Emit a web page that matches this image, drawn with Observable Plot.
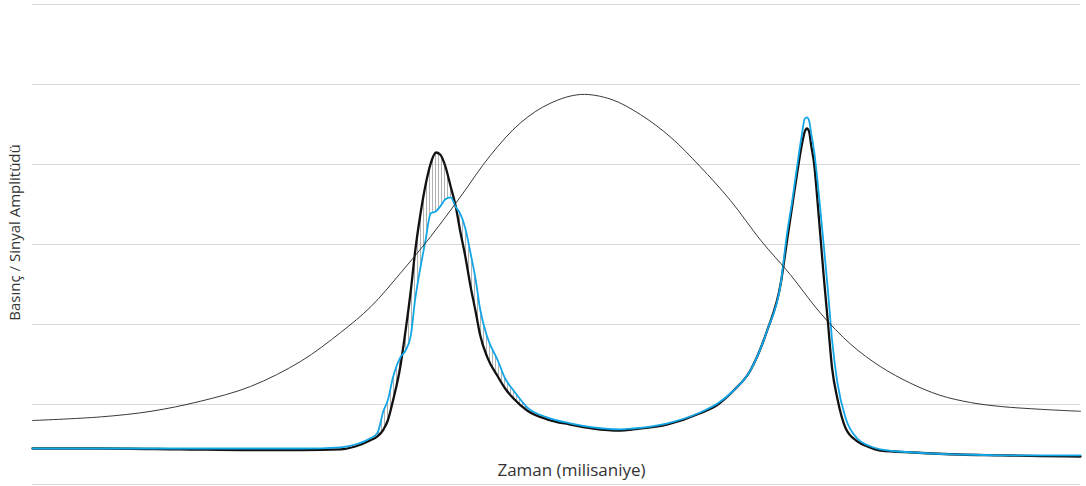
<!DOCTYPE html>
<html>
<head>
<meta charset="utf-8">
<script src="https://cdn.jsdelivr.net/npm/d3@7"></script>
<script src="https://cdn.jsdelivr.net/npm/@observablehq/plot@0.6"></script>
<style>
  html, body { margin: 0; padding: 0; background: #fff; }
  #chart { width: 1086px; height: 486px; }
  svg { font-family: "Open Sans", "Noto Sans", sans-serif; }
</style>
</head>
<body>
<div id="chart"></div>
<script>
// Time axis (ms) shared by the model curve and the measured signal
const times = [
  0, 65, 141, 208, 256, 294, 308, 322, 329, 335, 339, 344, 351, 356, 361, 365,
  370, 375, 380, 385, 389, 394, 399, 404, 408, 413, 418, 423, 427, 434, 444, 451,
  459, 472, 491, 513, 535, 561, 573, 606, 637, 654, 669, 685, 701, 714, 720, 725,
  730, 734, 737, 739, 741, 743, 746, 749, 752, 755, 759, 763, 768, 776, 787, 797,
  809, 841, 885, 924, 962, 1000
];

// Model curve (thick black)
const model = [
  9, 9, 8.8, 8.6, 8.6, 8.8, 9.5, 11, 12, 13.8, 16, 21, 29.5, 38.5, 48.5, 58,
  67.3, 74.8, 80.3, 83, 82.5, 79.5, 74.5, 69.3, 63.5, 57, 49.5, 43, 37.5, 31.8, 27, 24,
  21.5, 18.5, 16.3, 15, 14, 13.5, 13.8, 15, 17.8, 20, 23.5, 28.5, 38.5, 50.3, 61, 69.8,
  78.5, 84.8, 88.3, 89, 88.3, 84.8, 79.8, 71, 61.5, 52, 40.5, 29, 21.5, 14, 10.8, 9.5,
  8.5, 8, 7.5, 7.3, 7.1, 7
];

// Measured signal (blue)
const signal = [
  9, 9, 9, 9, 9, 9.3, 10, 11.5, 12.8, 18.5, 21, 26.8, 31.8, 33.5, 37.3, 46,
  54, 61, 67.8, 68.3, 69.5, 71.3, 71.8, 69.3, 67.8, 64, 57.8, 51, 44, 36.8, 31, 26.5,
  23.5, 19.3, 16.8, 15.3, 14.3, 13.8, 14, 15.3, 18, 20.3, 23.5, 28.5, 38.5, 50.3, 62.8, 71,
  80.3, 87.3, 91.5, 91.8, 91, 87.8, 83, 76, 68, 59.8, 48.5, 36, 25.5, 16.5, 11.5, 9.8,
  8.8, 8, 7.5, 7.3, 7.3, 7.3
];

// Pressure wave (thin black bell)
const pressureTimes = [
  0, 65, 113, 160, 208, 256, 294, 323, 351, 380, 408, 437, 466, 494, 523, 552,
  580, 609, 637, 666, 695, 723, 752, 781, 809, 838, 866, 895, 924, 962, 1000
];
const pressure = [
  16, 16.9, 18.3, 20.8, 24.5, 30.8, 38, 44.5, 52.8, 62, 71.8, 82.3, 90.5, 95.3, 97.5, 96.3,
  92.5, 86.8, 79.5, 71, 61, 52.5, 42.8, 35, 29.5, 25.3, 22.3, 20.5, 19.5, 18.8, 18.3
];

// Horizontal grid levels
const gridLevels = [0, 20, 40, 60, 80, 100, 120];

// Window over the first peak where the model/signal gap is hatched
const hatchWindow = [322, 472];

const xLabel = "Zaman (milisaniye)";
const yLabel = "Basınç / Sinyal Amplitüdü";

const rows = times.map((t, i) => ({ t, model: model[i], signal: signal[i] }));
const pressureRows = pressureTimes.map((t, i) => ({ t, p: pressure[i] }));
const gapRows = rows.filter(d => d.t >= hatchWindow[0] && d.t <= hatchWindow[1]);

const chart = Plot.plot({
  width: 1086,
  height: 486,
  marginTop: 4,
  marginBottom: 2,
  marginLeft: 32,
  marginRight: 6,
  style: { background: "#fff", fontFamily: "'Open Sans', 'Noto Sans', sans-serif" },
  x: { domain: [0, 1000], axis: null },
  y: { domain: [0, 120], axis: null },
  marks: [
    Plot.ruleY(gridLevels, { stroke: "#d9d9d9", strokeWidth: 1 }),
    Plot.areaY(gapRows, { x: "t", y1: "model", y2: "signal", fill: "url(#gap-hatch)", curve: "monotone-x" }),
    Plot.line(rows, { x: "t", y: "model", stroke: "#111", strokeWidth: 2.3, curve: "monotone-x" }),
    Plot.line(rows, { x: "t", y: "signal", stroke: "#12a6e6", strokeWidth: 1.8, curve: "monotone-x" }),
    Plot.line(pressureRows, { x: "t", y: "p", stroke: "#222", strokeWidth: 0.9, curve: "catmull-rom" }),
    Plot.text([xLabel], { frameAnchor: "bottom", lineAnchor: "middle", dx: 15, dy: -14, fontSize: 17, fill: "#333" }),
    Plot.text([yLabel], { frameAnchor: "left", textAnchor: "middle", lineAnchor: "middle", rotate: -90, dx: -17, dy: -12, fontSize: 15, fill: "#333" })
  ]
});

// Vertical-line hatch used to fill the gap between model and signal
const defs = d3.select(chart).insert("defs", ":first-child");
const pattern = defs.append("pattern")
  .attr("id", "gap-hatch")
  .attr("patternUnits", "userSpaceOnUse")
  .attr("width", 3)
  .attr("height", 6);
pattern.append("line")
  .attr("x1", 0.5).attr("x2", 0.5)
  .attr("y1", 0).attr("y2", 6)
  .attr("stroke", "#a8a8a8")
  .attr("stroke-width", 0.9);

document.getElementById("chart").appendChild(chart);
</script>
</body>
</html>
